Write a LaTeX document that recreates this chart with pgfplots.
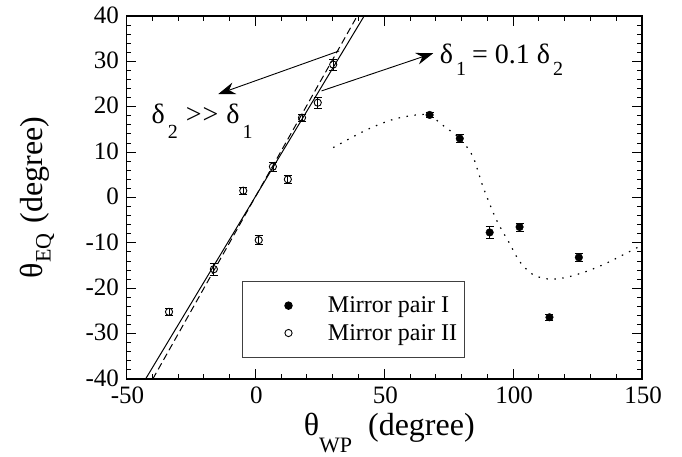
\documentclass[border=0pt]{standalone}
\usepackage{fontspec}
\setmainfont{Liberation Serif}
\usepackage{pgfplots}
\pgfplotsset{compat=1.18}
\usetikzlibrary{arrows.meta}

% lowered subscript: shift, size, text
\newcommand{\lowsub}[3]{\raisebox{#1}{\fontsize{#2}{#2}\selectfont #3}}

\pgfplotstableread{
x      y      ey
67.6   18.2   0.6
79.3   13.0   0.8
90.9   -7.7   1.3
102.5  -6.5   0.9
114.1  -26.4  0.6
125.5  -13.2  0.8
}\pairone

\pgfplotstableread{
x      y      ey
-33.5  -25.2  0.8
-16.1  -15.8  1.3
-4.7   1.5    0.8
1.3    -9.4   1.0
6.8    6.8    1.0
12.6   4.0    0.8
18.1   17.6   0.8
24.2   20.9   1.2
30.2   29.3   1.2
}\pairtwo

\begin{document}
\begin{tikzpicture}
\begin{axis}[
    at={(0,0)}, anchor=south west,
    scale only axis,
    width=515.5pt, height=363pt,
    xmin=-50, xmax=150, ymin=-40, ymax=40,
    xtick={-50,0,50,100,150},
    xticklabels={-50,0,50,100,150},
    ytick={-40,-30,-20,-10,0,10,20,30,40},
    yticklabels={-40,-30,-20,-10,0,10,20,30,40},
    minor x tick num=4, minor y tick num=4,
    tick align=inside,
    major tick length=10pt, minor tick length=5pt,
    every tick/.style={black, line width=1pt},
    axis line style={line width=1.6pt},
    ticklabel style={font=\fontsize{25}{25}\selectfont},
    xticklabel style={yshift=-4.5pt, xshift=1pt},
    yticklabel style={xshift=-4pt, yshift=1pt},
    xlabel={θ\lowsub{-17pt}{22}{WP}\hspace{16pt}(degree)},
    xlabel style={at={(axis description cs:0.5,0)}, anchor=north, inner sep=0pt,
        yshift=-34pt, xshift=5pt, font=\fontsize{32}{32}\selectfont},
    ylabel={θ\lowsub{-8pt}{22}{EQ}\hspace{10pt}(degree)},
    ylabel style={at={(axis description cs:0,0.5)}, anchor=south, inner sep=0pt,
        yshift=72pt, font=\fontsize{32}{32}\selectfont},
    legend style={at={(axis cs:-5.3,-18.3)}, anchor=north west,
        draw=black!75, line width=0.8pt,
        inner xsep=5pt, inner ysep=14pt, row sep=6pt,
        font=\fontsize{24}{24}\selectfont},
    legend cell align=left,
    legend image code/.code={\path (0pt,0pt) (78pt,0pt);
        \draw[#1] plot coordinates {(41pt,0pt)};},
    error bars/y dir=both, error bars/y explicit,
    error bars/error mark options={rotate=90, mark size=4pt, line width=0.8pt, black},
    error bars/error bar style={line width=0.8pt, black},
]

% fitted lines
\addplot[black, line width=1pt, forget plot] coordinates {(-42.6,-40) (42.2,40)};
\addplot[black, line width=1pt, dash pattern=on 7pt off 4pt, forget plot]
    coordinates {(-39.8,-40) (39.5,40)};

% dotted guide
\addplot[black, line width=1.2pt, smooth, dash pattern=on 1.5pt off 6.5pt, forget plot]
    coordinates {
    (30.2,11.0) (43.1,14.9) (53.4,17.2) (62.5,18.2) (67.6,18.1) (73,15.8)
    (79.3,13.0) (84.4,9.0) (88.3,2.4) (93.5,-4.9) (98.6,-10.1) (102.5,-14.1)
    (107.7,-17.0) (114.1,-18.0) (120.6,-17.6) (128.4,-16.3) (136.1,-14.5)
    (145.2,-11.9) (150,-10.5)
    };

\addplot[only marks, mark=*, mark size=3.8pt, black]
    table[x=x, y=y, y error=ey] {\pairone};
\addlegendentry{Mirror pair I}

\addplot[only marks, mark=o, mark size=3.6pt, black, mark options={line width=0.9pt}]
    table[x=x, y=y, y error=ey] {\pairtwo};
\addlegendentry{Mirror pair II}

% annotations
\draw[line width=0.9pt, -{Stealth[length=17pt, width=12pt]}]
    (axis cs:32.5,32.3) -- (axis cs:-14.4,22.8);
\draw[line width=0.9pt, -{Stealth[length=17pt, width=12pt]}]
    (axis cs:25.7,23.5) -- (axis cs:69,31.8);
\node[anchor=base west, inner sep=0pt, font=\fontsize{28}{28}\selectfont]
    at (axis cs:-40.3,16.4)
    {δ\hspace{3pt}\lowsub{-15pt}{20}{2}\hspace{8pt}>\kern1pt>\hspace{8pt}δ\hspace{3pt}\lowsub{-15pt}{20}{1}};
\node[anchor=base west, inner sep=0pt, font=\fontsize{28}{28}\selectfont]
    at (axis cs:71.5,29.6)
    {δ\hspace{3pt}\lowsub{-12pt}{20}{1}\hspace{6pt}= 0.1 δ\hspace{3pt}\lowsub{-12pt}{20}{2}};
\end{axis}
\pgfresetboundingbox
\path[use as bounding box] (-126.5pt,-78pt) rectangle (555.5pt,379pt);
\end{tikzpicture}
\end{document}
